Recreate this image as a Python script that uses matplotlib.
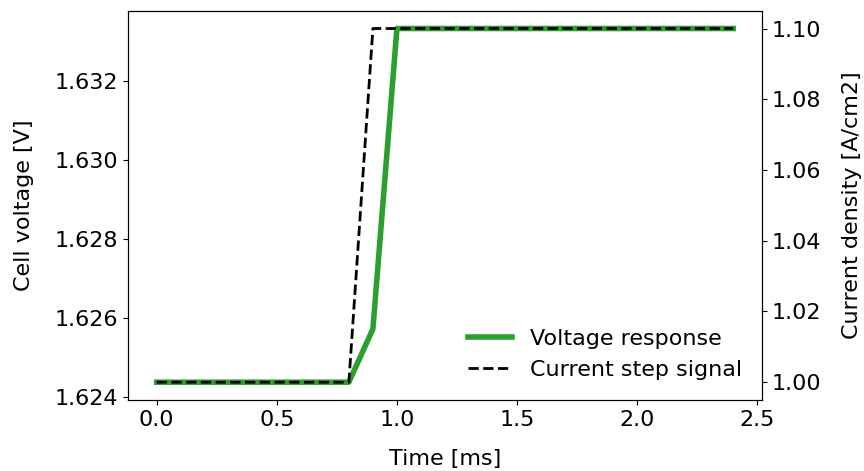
import numpy as np
import matplotlib.pyplot as plt

plt.rcParams["font.size"] = 16

time_ms = [0.0, 0.1, 0.2, 0.3, 0.4, 0.5, 0.6, 0.7, 0.8, 0.9, 1.0, 1.1, 1.2,
           1.3, 1.4, 1.5, 1.6, 1.7, 1.8, 1.9, 2.0, 2.1, 2.2, 2.3, 2.4]
voltage = [1.62437] * 9 + [1.62572] + [1.63334] * 15
current = [1.00] * 9 + [1.10] * 16

fig, ax = plt.subplots(figsize=(8.64, 4.71), dpi=100)
fig.subplots_adjust(left=0.148, right=0.882, top=0.977, bottom=0.151)

ax.plot(time_ms, voltage, color="tab:green", lw=4, label="Voltage response")
ax.set_xlabel("Time [ms]", labelpad=14)
ax.set_ylabel("Cell voltage [V]", labelpad=15)
ax.set_xticks([0.0, 0.5, 1.0, 1.5, 2.0, 2.5])
ax.set_yticks([1.624, 1.626, 1.628, 1.630, 1.632])

ax2 = ax.twinx()
ax2.plot(time_ms, current, "k--", lw=2, label="Current step signal")
ax2.set_ylabel("Current density [A/cm2]", labelpad=15)

h1, l1 = ax.get_legend_handles_labels()
h2, l2 = ax2.get_legend_handles_labels()
ax2.legend(h1 + h2, l1 + l2, loc="lower right", frameon=False)

fig.savefig("out.png")
